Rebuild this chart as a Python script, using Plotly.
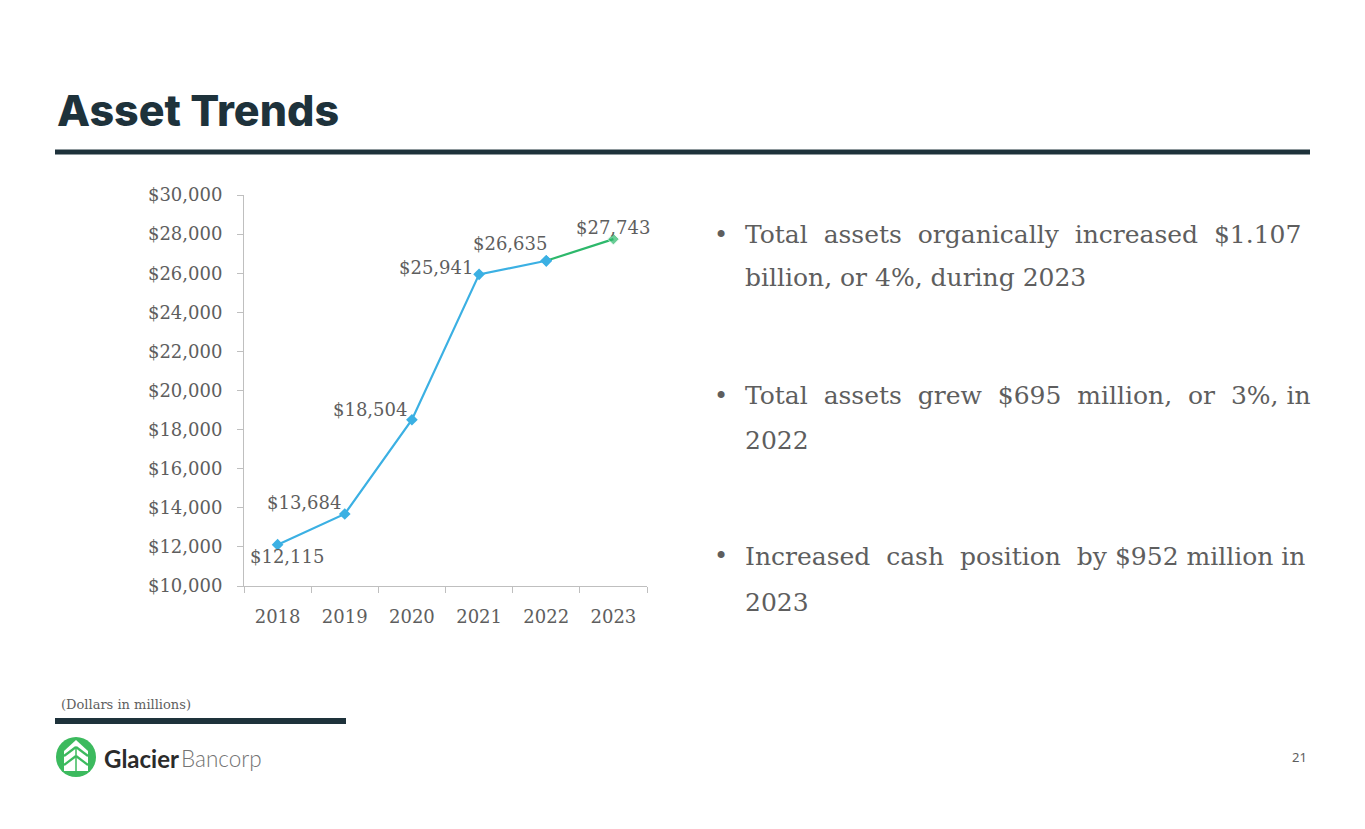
import plotly.graph_objects as go

# chart data (dollars in millions)
years = ["2018", "2019", "2020", "2021", "2022", "2023"]
total_assets = [12115, 13684, 18504, 25941, 26635, 27743]

bullets = [
    ["Total  assets  organically  increased  $1.107", "billion, or 4%, during 2023"],
    ["Total  assets  grew  $695  million,  or  3%, in", "2022"],
    ["Increased  cash  position  by $952 million in", "2023"],
]

# label placement around each point: (xanchor, xshift, yshift)
label_style = [("center", 9, -12), ("right", -2, 11), ("right", -3, 10),
               ("right", -4, 7), ("center", -36, 17), ("center", 0, 12)]

W, H = 1365, 829
OFF = 8  # page margin of the html body
DARK = "#1e323b"
BLUE = "#3bb0e3"
GREEN = "#2db86b"
LOGO_GREEN = "#3cba5e"
GRAY_TXT = "#5e5e5e"
AXIS = "#bfbfbf"
SERIF = "DejaVu Serif"


def px(x):
    return (x - OFF) / W


def py(y):
    return 1 - (y - OFF) / H


fig = go.Figure()

# blue part of the trend (2018-2022)
fig.add_trace(go.Scatter(
    x=years[:5], y=total_assets[:5], mode="lines+markers",
    line=dict(color=BLUE, width=2.2),
    marker=dict(symbol="diamond", size=9, color=BLUE),
    cliponaxis=False, hoverinfo="skip",
))
# green last segment (2022-2023)
fig.add_trace(go.Scatter(
    x=years[4:], y=total_assets[4:], mode="lines+markers",
    line=dict(color=GREEN, width=2.2),
    marker=dict(symbol="diamond", size=[0, 9], color=GREEN),
    cliponaxis=False, hoverinfo="skip",
))
fig.add_trace(go.Scatter(
    x=[years[4]], y=[total_assets[4]], mode="markers",
    marker=dict(symbol="diamond", size=9, color=BLUE), hoverinfo="skip",
))

# value labels (category axis -> annotation x is the category index)
annotations = []
for i, (v, (anc, dx, dy)) in enumerate(zip(total_assets, label_style)):
    annotations.append(dict(
        x=i, y=v, xref="x", yref="y", text="$" + format(v, ","), showarrow=False,
        xanchor=anc, yanchor="middle", xshift=dx, yshift=dy,
        font=dict(family=SERIF, size=18, color=GRAY_TXT),
    ))


def path(pts, closed=True):
    s = "M " + " L ".join(f"{px(x):.5f},{py(y):.5f}" for x, y in pts)
    return s + (" Z" if closed else "")


shapes = [
    dict(type="line", xref="paper", yref="paper", x0=px(55), x1=px(1310), y0=py(152), y1=py(152),
         line=dict(color=DARK, width=5)),
    dict(type="line", xref="paper", yref="paper", x0=px(55), x1=px(346), y0=py(721), y1=py(721),
         line=dict(color=DARK, width=6)),
    dict(type="circle", xref="paper", yref="paper", x0=px(56), x1=px(96), y0=py(777), y1=py(737),
         fillcolor=LOGO_GREEN, line=dict(width=0)),
    # white arrow / tree in the logo
    dict(type="path", xref="paper", yref="paper",
         path=path([(76, 740), (88, 751), (88, 771), (64, 771), (64, 751)]),
         fillcolor="white", line=dict(width=0)),
]
# green cuts that make the tiers of the tree
for y0 in (753, 762):
    for pts in ([(76, y0 - 6), (64, y0 + 3)], [(76, y0 - 6), (88, y0 + 3)]):
        shapes.append(dict(type="path", xref="paper", yref="paper", path=path(pts, False),
                           line=dict(color=LOGO_GREEN, width=2.2)))
shapes.append(dict(type="line", xref="paper", yref="paper", x0=px(76), x1=px(76),
                   y0=py(747), y1=py(771), line=dict(color=LOGO_GREEN, width=1.5)))

page_text = [
    dict(text="Asset Trends", x=px(55), y=py(110), xanchor="left", yanchor="middle",
         font=dict(family="Inter", size=43, color=DARK, weight=800)),
    dict(text="(Dollars in millions)", x=px(59), y=py(704), xanchor="left", yanchor="middle",
         font=dict(family=SERIF, size=13, color=GRAY_TXT)),
    dict(text="Glacier", x=px(102), y=py(758), xanchor="left", yanchor="middle",
         font=dict(family="Lato", size=24, color="#2b2b2b", weight=700)),
    dict(text="Bancorp", x=px(179), y=py(758), xanchor="left", yanchor="middle",
         font=dict(family="Lato", size=22.5, color="#737373", weight=300)),
    dict(text="21", x=px(1299), y=py(757), xanchor="center", yanchor="middle",
         font=dict(family="Noto Sans", size=13, color=GRAY_TXT)),
]

line_y = [(235, 278), (396, 440), (556, 602)]
for lines, ys in zip(bullets, line_y):
    page_text.append(dict(text="•", x=px(721), y=py(ys[0]), xanchor="center", yanchor="middle",
                          font=dict(family=SERIF, size=24, color=GRAY_TXT)))
    for t, yy in zip(lines, ys):
        page_text.append(dict(text=t, x=px(743), y=py(yy), xanchor="left", yanchor="middle",
                              font=dict(family=SERIF, size=25, color=GRAY_TXT)))

for a in page_text:
    a.update(xref="paper", yref="paper", showarrow=False)
annotations += page_text

fig.update_layout(
    width=W, height=H,
    margin=dict(l=0, r=0, t=0, b=0, pad=0),
    paper_bgcolor="white", plot_bgcolor="white",
    showlegend=False,
    shapes=shapes,
    annotations=annotations,
    xaxis=dict(
        domain=[px(244), px(647)], type="category", automargin=False,
        categoryorder="array", categoryarray=years, range=[-0.5, len(years) - 0.5],
        tickson="boundaries", ticks="outside", ticklen=6, tickcolor=AXIS,
        showline=True, linecolor=AXIS, linewidth=1, showgrid=False, zeroline=False,
        tickfont=dict(family=SERIF, size=18, color=GRAY_TXT), ticklabelstandoff=14,
        tickangle=0, fixedrange=True,
    ),
    yaxis=dict(
        domain=[py(586), py(195)], range=[10000, 30000], dtick=2000, automargin=False,
        tickprefix="$", tickformat=",d",
        ticks="outside", ticklen=6, tickcolor=AXIS,
        showline=True, linecolor=AXIS, linewidth=1, showgrid=False, zeroline=False,
        tickfont=dict(family=SERIF, size=18, color=GRAY_TXT), ticklabelstandoff=11,
        fixedrange=True,
    ),
)

fig.write_html("out.html")
